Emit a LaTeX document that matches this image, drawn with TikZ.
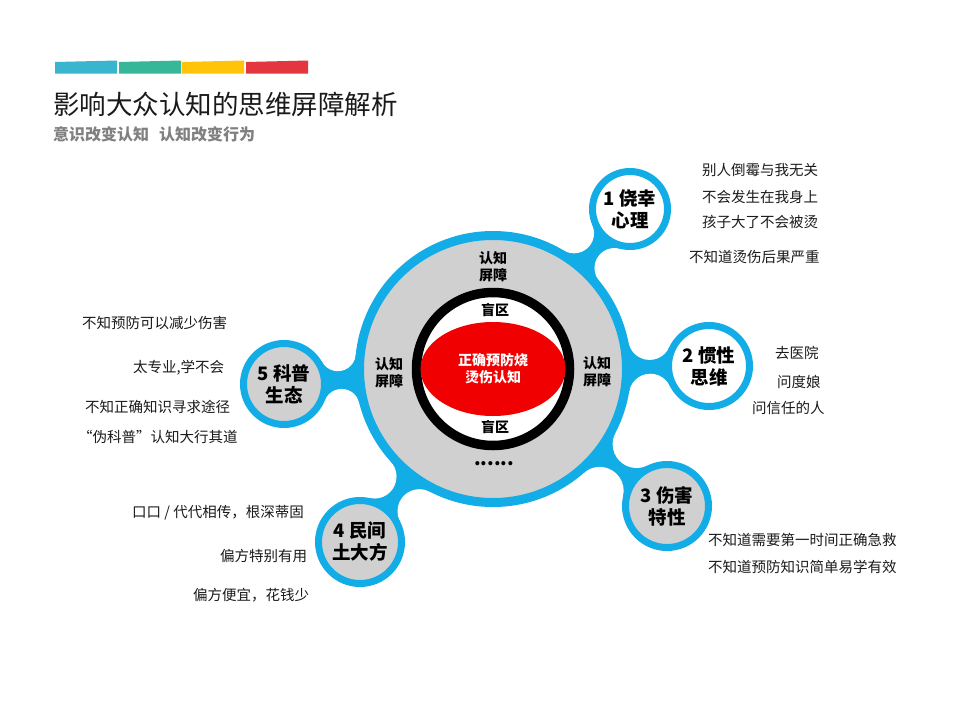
\documentclass[tikz,border=0pt]{standalone}
\usepackage{fontspec}
\setmainfont{Noto Sans CJK SC}
\usetikzlibrary{intersections,shapes.geometric}
\definecolor{moBlue}{HTML}{12ACE6}
\definecolor{moGrey}{HTML}{D0D0D0}
\definecolor{moRed}{HTML}{F00000}
\definecolor{moText}{HTML}{1A1A1A}
\definecolor{moSub}{HTML}{808080}
\definecolor{barBlue}{HTML}{3AB5D0}
\definecolor{barGreen}{HTML}{36B798}
\definecolor{barYellow}{HTML}{FFC40A}
\definecolor{barRed}{HTML}{E4363F}
\pgfdeclarelayer{back}
\pgfsetlayers{back,main}
\begin{document}
\begin{tikzpicture}[x=1pt,y=-1pt,line cap=round,line join=round]
\begin{pgfonlayer}{back}
\path[fill=white] (0,0) rectangle (960,720);
\end{pgfonlayer}
\tikzset{sat/.style={circle,draw=moBlue,line width=7pt,fill=#1,inner sep=0pt,align=center,text=black,font=\fontsize{18.5}{22}\selectfont\bfseries},note/.style={anchor=west,inner sep=0pt,text=moText,font=\fontsize{14.5}{16}\selectfont},tag/.style={align=center,inner sep=0pt,text=black,font=\fontsize{14}{17}\selectfont\bfseries}}
\foreach \x/\c in {55/barBlue,119/barGreen,182/barYellow,246/barRed}
  \fill[\c] (\x,73.5) -- (\x,62) -- (\x+62,60.5) -- (\x+62,73.5) -- cycle;
\node[anchor=west,inner sep=0pt,text=moText,font=\fontsize{26.5}{30}\selectfont] (title) at (53,104) {影响大众认知的思维屏障解析};
\node[anchor=west,inner sep=0pt,text=moSub,font=\fontsize{16}{18}\selectfont\bfseries] (subtitle) at (53,134) {意识改变认知\hspace{10pt}认知改变行为};
\node[circle,draw=moBlue,line width=9pt,fill=moGrey,minimum size=267pt] (core) at (493,369) {};
\node[circle,draw=black,line width=9.5pt,fill=white,minimum size=153pt] (ring) at (core) {};
\node[ellipse,fill=moRed,minimum width=145pt,minimum height=94pt,inner sep=0pt,align=center,text=white,font=\fontsize{14}{17}\selectfont\bfseries] (truth) at (core) {正确预防烧\\烫伤认知};
\node[tag] (topbar) at (493,267) {认知\\屏障};
\node[tag] (leftbar) at (389,373) {认知\\屏障};
\node[tag] (rightbar) at (597,372) {认知\\屏障};
\node[tag] (topblind) at (495,310) {盲区};
\node[tag] (botblind) at (495,427) {盲区};
\node[tag,font=\fontsize{19}{20}\selectfont\bfseries] (more) at (494,464) {......};
\node[sat=white,minimum size=75pt] (s1) at (630,209) {1 侥幸\\心理};
\node[sat=white,minimum size=81pt] (s2) at (709,366) {2 惯性\\思维};
\node[sat=moGrey,minimum size=83pt] (s3) at (667,506) {3 伤害\\特性};
\node[sat=moGrey,minimum size=83pt] (s4) at (360,542) {4 民间\\土大方};
\node[sat=moGrey,minimum size=81pt] (s5) at (284,384) {5 科普\\生态};
\begin{pgfonlayer}{back}
\foreach \s/\r/\q in {s1/41/20,s2/44/21.5,s3/45/24,s4/45/22,s5/44/18}{
  \path[name path=outer] (core.center) circle[radius=138pt+\q pt];
  \path[name path=inner] (\s.center) circle[radius=\r pt+\q pt];
  \path[name intersections={of=outer and inner,by={k1,k2}}];
  \fill[moBlue] (core.center) -- (k1) -- (\s.center) -- (k2) -- cycle;
  \fill[white] (k1) circle[radius=\q pt] (k2) circle[radius=\q pt];
}
\end{pgfonlayer}
\node[note] (luck1) at (702,170) {别人倒霉与我无关};
\node[note] (luck2) at (702,197) {不会发生在我身上};
\node[note] (luck3) at (702,222) {孩子大了不会被烫};
\node[note] (luck4) at (689,257) {不知道烫伤后果严重};
\node[note] (habit1) at (775,353) {去医院};
\node[note] (habit2) at (777,382) {问度娘};
\node[note] (habit3) at (752,408) {问信任的人};
\node[note] (harm1) at (708,540) {不知道需要第一时间正确急救};
\node[note] (harm2) at (708,567) {不知道预防知识简单易学有效};
\node[note] (folk1) at (132,513) {口口 / 代代相传，根深蒂固};
\node[note] (folk2) at (220,556) {偏方特别有用};
\node[note] (folk3) at (193,595) {偏方便宜，花钱少};
\node[note] (pop1) at (82,323) {不知预防可以减少伤害};
\node[note] (pop2) at (133,368) {太专业,学不会};
\node[note] (pop3) at (85,407) {不知正确知识寻求途径};
\node[note] (pop4) at (78,437) {“伪科普”认知大行其道};
\end{tikzpicture}
\end{document}
